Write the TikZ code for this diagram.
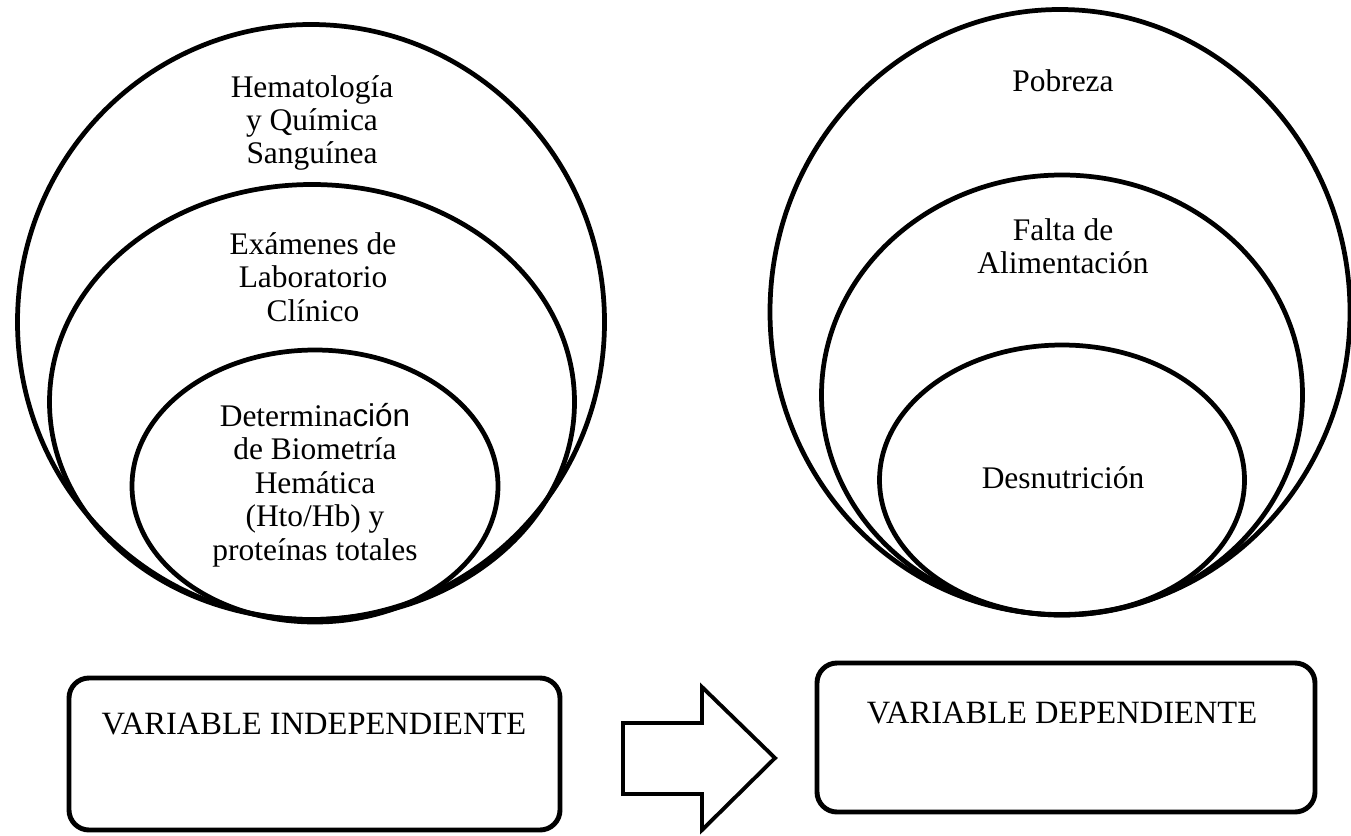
\documentclass[tikz,border=0pt]{standalone}
\usepackage{fontspec}
\setmainfont{Liberation Serif}
\setsansfont{Liberation Sans}
\usetikzlibrary{shapes.geometric}
\newcommand{\px}{0.02cm}

\begin{document}
\begin{tikzpicture}[x=0.02cm,y=-0.02cm,
                    ring/.style={draw,ellipse,line width=2.7pt,inner sep=0pt},
                    varbox/.style={draw,rectangle,rounded corners=0.4cm,line width=2.8pt,inner sep=0pt},
                    ringtext/.style={align=center,font=\fontsize{17.9}{19}\selectfont},
                    boxtext/.style={font=\fontsize{18.5}{20}\selectfont}]
  \useasboundingbox (0,0) rectangle (1351,835);

  \node[ring,minimum width=587*\px,minimum height=595*\px] (hq) at (311,322) {};
  \node[ring,minimum width=525*\px,minimum height=435*\px] (lab) at (312,402) {};
  \node[ring,minimum width=366*\px,minimum height=272*\px] (bio) at (315,486) {};

  \node[ringtext] (hqt) at (312,123) {Hematología\\y Química\\Sanguínea};
  \node[ringtext] (labt) at (313,277) {Exámenes de\\Laboratorio\\Clínico};
  \node[ringtext] (biot) at (315,485) {Determina\textsf{ción}\\de Biometría\\Hemática\\(Hto/Hb) y\\proteínas totales};

  \node[ring,minimum width=580*\px,minimum height=605*\px] (pob) at (1060,312) {};
  \node[ring,minimum width=481*\px,minimum height=440*\px] (ali) at (1062,395) {};
  \node[ring,minimum width=365*\px,minimum height=270*\px] (des) at (1062,480) {};

  \node[ringtext] (pobt) at (1063,81) {Pobreza};
  \node[ringtext] (alit) at (1063,246) {Falta de\\Alimentación};
  \node[ringtext] (dest) at (1063,478) {Desnutrición};

  \node[varbox,minimum width=491*\px,minimum height=152*\px] (vi) at (314.5,754) {};
  \node[varbox,minimum width=498*\px,minimum height=149*\px] (vd) at (1066,737.5) {};
  \node[boxtext] (vit) at (314,724) {VARIABLE INDEPENDIENTE};
  \node[boxtext] (vdt) at (1062,713) {VARIABLE DEPENDIENTE};

  \draw[line width=2.2pt] (623,723) -- (702,723) -- (702,687) -- (775,758)
    -- (702,830) -- (702,794) -- (623,794) -- cycle;
\end{tikzpicture}
\end{document}
